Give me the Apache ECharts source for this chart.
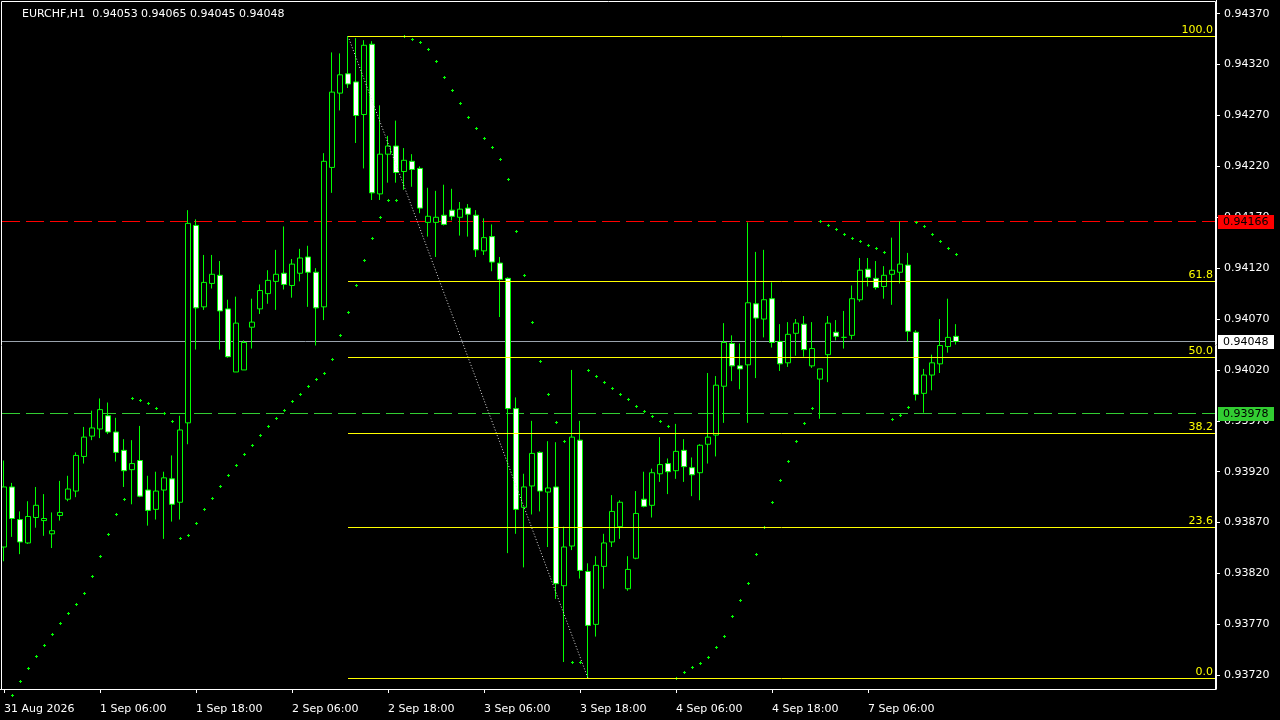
<!DOCTYPE html>
<html><head><meta charset="utf-8">
<script src="https://cdn.jsdelivr.net/npm/echarts@6/dist/echarts.min.js"></script>
<style>html,body{margin:0;padding:0;background:#000;}#c{width:1280px;height:720px;}</style>
</head><body><div id="c"></div>
<script>
const symbolName = 'EURCHF,H1';
const opens = [
0.93846,0.93905,0.93873,0.93850,0.93875,0.93872,0.93859,0.93877,0.93893,0.93901,
0.93935,0.93955,0.93962,0.93975,0.93959,0.93941,0.93922,0.93931,0.93902,0.93883,
0.93902,0.93913,0.93890,0.93968,0.94162,0.94082,0.94105,0.94113,0.94080,0.94018,
0.94020,0.94062,0.94080,0.94095,0.94107,0.94115,0.94103,0.94115,0.94131,0.94116,
0.94082,0.94219,0.94292,0.94311,0.94303,0.94271,0.94340,0.94193,0.94232,0.94240,
0.94215,0.94225,0.94218,0.94165,0.94165,0.94172,0.94177,0.94170,0.94179,0.94172,
0.94137,0.94151,0.94125,0.94110,0.93982,0.93885,0.93906,0.93939,0.93900,0.93905,
0.93808,0.93847,0.93951,0.93822,0.93770,0.93827,0.93851,0.93866,0.93805,0.93835,
0.93893,0.93887,0.93918,0.93928,0.93921,0.93941,0.93924,0.93919,0.93947,0.93956,
0.94004,0.94046,0.94024,0.94025,0.94085,0.94070,0.94090,0.94048,0.94027,0.94056,
0.94065,0.94024,0.94011,0.94035,0.94057,0.94052,0.94054,0.94089,0.94119,0.94110,
0.94102,0.94114,0.94116,0.94123,0.94057,0.93997,0.94015,0.94026,0.94043,0.94053];
const highs = [
0.93931,0.93909,0.93881,0.93891,0.93905,0.93898,0.93880,0.93911,0.93916,0.93939,
0.93964,0.93980,0.93992,0.93988,0.93973,0.93952,0.93951,0.93965,0.93916,0.93920,
0.93920,0.93936,0.93975,0.94177,0.94168,0.94133,0.94133,0.94127,0.94089,0.94092,
0.94049,0.94090,0.94104,0.94118,0.94138,0.94161,0.94129,0.94139,0.94142,0.94120,
0.94233,0.94332,0.94331,0.94348,0.94346,0.94344,0.94343,0.94280,0.94250,0.94265,
0.94238,0.94232,0.94220,0.94199,0.94196,0.94202,0.94198,0.94185,0.94183,0.94177,
0.94169,0.94163,0.94131,0.94111,0.93993,0.93918,0.93970,0.93940,0.93950,0.93949,
0.93866,0.94020,0.93970,0.93830,0.93837,0.93859,0.93897,0.93892,0.93837,0.93901,
0.93920,0.93923,0.93954,0.93933,0.93967,0.93952,0.93934,0.93947,0.94017,0.94014,
0.94066,0.94054,0.94046,0.94165,0.94136,0.94138,0.94106,0.94065,0.94067,0.94070,
0.94073,0.94067,0.94021,0.94073,0.94069,0.94078,0.94103,0.94130,0.94130,0.94127,
0.94122,0.94150,0.94166,0.94135,0.94059,0.94021,0.94035,0.94070,0.94090,0.94065];
const lows = [
0.93832,0.93856,0.93839,0.93849,0.93865,0.93857,0.93845,0.93872,0.93891,0.93895,
0.93928,0.93951,0.93953,0.93957,0.93930,0.93905,0.93888,0.93895,0.93867,0.93873,
0.93854,0.93871,0.93873,0.93947,0.94040,0.94079,0.94100,0.94040,0.94032,0.94018,
0.94020,0.94041,0.94075,0.94085,0.94079,0.94099,0.94091,0.94107,0.94082,0.94044,
0.94069,0.94194,0.94275,0.94297,0.94243,0.94218,0.94187,0.94187,0.94204,0.94204,
0.94197,0.94200,0.94174,0.94151,0.94131,0.94162,0.94167,0.94152,0.94151,0.94131,
0.94133,0.94117,0.94072,0.93840,0.93859,0.93826,0.93878,0.93881,0.93846,0.93795,
0.93733,0.93843,0.93815,0.93717,0.93758,0.93805,0.93846,0.93854,0.93803,0.93834,
0.93885,0.93875,0.93910,0.93898,0.93913,0.93910,0.93896,0.93892,0.93928,0.93935,
0.93968,0.94009,0.94001,0.93968,0.94012,0.94052,0.94042,0.94019,0.94023,0.94034,
0.94033,0.94022,0.93972,0.94008,0.94049,0.94041,0.94050,0.94087,0.94102,0.94099,
0.94090,0.94084,0.94105,0.94048,0.93990,0.93978,0.94000,0.94017,0.94037,0.94045];
const closes = [
0.93905,0.93874,0.93851,0.93876,0.93887,0.93874,0.93862,0.93880,0.93903,0.93936,
0.93954,0.93963,0.93981,0.93959,0.93939,0.93921,0.93928,0.93896,0.93882,0.93901,
0.93914,0.93888,0.93961,0.94164,0.94081,0.94106,0.94114,0.94078,0.94033,0.94066,
0.94047,0.94067,0.94098,0.94108,0.94114,0.94104,0.94124,0.94130,0.94116,0.94081,
0.94225,0.94293,0.94310,0.94301,0.94270,0.94339,0.94194,0.94232,0.94240,0.94214,
0.94226,0.94217,0.94179,0.94171,0.94170,0.94163,0.94171,0.94178,0.94173,0.94138,
0.94150,0.94126,0.94109,0.93982,0.93883,0.93905,0.93938,0.93901,0.93904,0.93810,
0.93846,0.93954,0.93823,0.93769,0.93828,0.93850,0.93881,0.93890,0.93824,0.93879,
0.93886,0.93919,0.93927,0.93920,0.93940,0.93925,0.93917,0.93946,0.93954,0.94005,
0.94047,0.94024,0.94021,0.94086,0.94071,0.94089,0.94047,0.94026,0.94055,0.94066,
0.94040,0.94041,0.94021,0.94066,0.94053,0.94052,0.94090,0.94118,0.94111,0.94101,
0.94113,0.94118,0.94124,0.94058,0.93996,0.94015,0.94027,0.94044,0.94052,0.94048];
const sar = [
null,0.93701,0.93714,0.93727,0.93739,0.93750,0.93761,0.93771,0.93781,0.93790,
0.93801,0.93818,0.93837,0.93859,0.93878,0.93893,0.93992,0.93990,0.93988,0.93983,
0.93978,0.93970,0.93855,0.93858,0.93870,0.93883,0.93894,0.93906,0.93917,0.93927,
0.93937,0.93946,0.93956,0.93965,0.93973,0.93981,0.93989,0.93996,0.94004,0.94011,
0.94017,0.94031,0.94054,0.94077,0.94103,0.94128,0.94150,0.94170,0.94187,0.94187,
0.94348,0.94345,0.94342,0.94335,0.94324,0.94308,0.94295,0.94282,0.94269,0.94258,
0.94248,0.94239,0.94227,0.94208,0.94157,0.94113,0.94067,0.94029,0.93996,0.93969,
0.93950,0.93733,0.93733,0.94020,0.94014,0.94008,0.94002,0.93996,0.93991,0.93985,
0.93980,0.93975,0.93970,0.93965,0.93717,0.93723,0.93728,0.93732,0.93738,0.93748,
0.93759,0.93778,0.93794,0.93811,0.93839,0.93866,0.93890,0.93912,0.93931,0.93950,
0.93968,0.93983,0.94166,0.94162,0.94158,0.94154,0.94150,0.94147,0.94143,0.94140,
0.94136,0.93972,0.93976,0.93984,0.94165,0.94161,0.94154,0.94147,0.94140,0.94134];
const timeTicks = ['31 Aug 2026','1 Sep 06:00','1 Sep 18:00','2 Sep 06:00','2 Sep 18:00','3 Sep 06:00','3 Sep 18:00','4 Sep 06:00','4 Sep 18:00','7 Sep 06:00'];
const priceTicks = [0.93720,0.93770,0.93820,0.93870,0.93920,0.93970,0.94020,0.94070,0.94120,0.94170,0.94220,0.94270,0.94320,0.94370];
const fiboLevels = [0, 23.6, 38.2, 50, 61.8, 100];
const fiboHighBar = 43, fiboLowBar = 73;
const dayHigh = 0.94166, dayLow = 0.93978;
const totalSlots = 152;
const barsPerTick = 12;

const FONT = '"DejaVu Sans", Verdana, sans-serif';
const n = opens.length;
const bid = closes[n - 1];
const fibHigh = highs[fiboHighBar], fibLow = lows[fiboLowBar];
const cats = Array.from({length: totalSlots}, (_, i) => String(i));
const candles = opens.map((o, i) => [o, closes[i], lows[i], highs[i]]);
const sarData = [];
sar.forEach((v, i) => { if (v != null) sarData.push([i, v]); });
const fiboData = fiboLevels.map(l => [fiboHighBar, fibLow + l / 100 * (fibHigh - fibLow), l]);
const hLineData = [[0, dayHigh, 0], [0, bid, 1], [0, dayLow, 2]];
const hLineStyle = [
  {stroke: '#ff0000', dash: [18, 6], bg: '#ff0000', fg: '#000000'},
  {stroke: '#9aa3ad', dash: null, bg: '#ffffff', fg: '#000000'},
  {stroke: '#32cd32', dash: [18, 6], bg: '#32cd32', fg: '#000000'}
];
const title = symbolName + '  ' + [opens[n-1], highs[n-1], lows[n-1], closes[n-1]].map(v => v.toFixed(5)).join(' ');

const chart = echarts.init(document.getElementById('c'), null, {renderer: 'canvas'});
chart.setOption({
  backgroundColor: '#000',
  animation: false,
  grid: {left: -1, right: 64, top: 0, bottom: 31, containLabel: false},
  xAxis: {
    type: 'category', data: cats, boundaryGap: true,
    axisLine: {show: true, lineStyle: {color: '#fff', width: 1}},
    axisTick: {show: true, length: 4, alignWithLabel: true, lineStyle: {color: '#fff'},
      interval: (i) => i % barsPerTick === 0 && i / barsPerTick < timeTicks.length},
    axisLabel: {show: true, color: '#fff', fontFamily: FONT, fontSize: 11, align: 'left', margin: 15,
      interval: barsPerTick - 1,
      formatter: (v, i) => (timeTicks[i / barsPerTick] || '')},
    splitLine: {show: false}
  },
  yAxis: {
    type: 'value', position: 'right', min: 0.937065, max: 0.943835,
    axisLine: {show: true, lineStyle: {color: '#fff', width: 1}},
    axisTick: {show: true, length: 4, lineStyle: {color: '#fff'}, customValues: priceTicks},
    axisLabel: {show: true, color: '#fff', fontFamily: FONT, fontSize: 11, margin: 8,
      customValues: priceTicks, formatter: v => Number(v).toFixed(5)},
    splitLine: {show: false}
  },
  graphic: [
    {type: 'rect', shape: {x: 1.5, y: 1.5, width: 1214, height: 688}, style: {fill: null, stroke: '#fff', lineWidth: 1}, z: 50, silent: true},
    {type: 'text', left: 22, top: 9, style: {text: title, fill: '#fff', font: '11px ' + FONT}, z: 50, silent: true}
  ],
  series: [
    {
      type: 'custom', data: hLineData, z: 1, silent: true, clip: false,
      encode: {x: 0, y: 1},
      renderItem: (params, api) => {
        const v = api.value(1);
        const st = hLineStyle[api.value(2)];
        const pt = api.coord([0, v]);
        const cs = params.coordSys;
        const yi = Math.round(pt[1]);
        const bx = cs.x + cs.width + 2;
        return {type: 'group', children: [
          {type: 'line', shape: {x1: 2, y1: yi + 0.5, x2: cs.x + cs.width, y2: yi + 0.5},
            style: {stroke: st.stroke, lineWidth: 1, lineDash: st.dash}},
          {type: 'rect', shape: {x: bx, y: yi - 6, width: 56, height: 14}, style: {fill: st.bg}},
          {type: 'text', style: {text: v.toFixed(5), x: bx + 5, y: yi + 1.5, verticalAlign: 'middle', fill: st.fg, font: '11px ' + FONT}}
        ]};
      }
    },
    {
      type: 'candlestick', data: candles, barWidth: 5, z: 3,
      itemStyle: {color: '#000', color0: '#fff', borderColor: '#00ff00', borderColor0: '#00ff00', borderColorDoji: '#00ff00', borderWidth: 1}
    },
    {
      type: 'custom', data: sarData, z: 5, silent: true,
      encode: {x: 0, y: 1},
      renderItem: (params, api) => {
        const pt = api.coord([api.value(0), api.value(1)]);
        const x = Math.round(pt[0]), y = Math.round(pt[1]);
        return {type: 'group', children: [
          {type: 'rect', shape: {x: x - 1, y: y, width: 3, height: 1}, style: {fill: '#00ff00'}},
          {type: 'rect', shape: {x: x, y: y - 1, width: 1, height: 3}, style: {fill: '#00ff00'}}
        ]};
      }
    },
    {
      type: 'custom', data: [[fiboHighBar, fibHigh, fiboLowBar, fibLow]], z: 6, silent: true, clip: false,
      encode: {x: [0, 2], y: [1, 3]},
      renderItem: (params, api) => {
        const a = api.coord([api.value(0), api.value(1)]);
        const b = api.coord([api.value(2), api.value(3)]);
        return {type: 'line', shape: {x1: a[0], y1: a[1], x2: b[0], y2: b[1]},
          style: {stroke: '#e0e0e0', lineWidth: 1, lineDash: [1, 2]}};
      }
    },
    {
      type: 'custom', data: fiboData, z: 6, silent: true, clip: false,
      encode: {x: 0, y: 1},
      renderItem: (params, api) => {
        const lvl = api.value(2);
        const p = api.value(1);
        const start = api.coord([api.value(0), p]);
        const cs = params.coordSys;
        const xEnd = cs.x + cs.width - 1;
        const y = Math.round(start[1]) + 0.5;
        return {type: 'group', children: [
          {type: 'line', shape: {x1: start[0], y1: y, x2: xEnd, y2: y}, style: {stroke: '#ffff00', lineWidth: 1}},
          {type: 'text', style: {text: lvl.toFixed(1), x: xEnd - 2, y: y - 1, align: 'right', verticalAlign: 'bottom', fill: '#ffff00', font: '11px ' + FONT}}
        ]};
      }
    }
  ]
});
</script></body></html>
